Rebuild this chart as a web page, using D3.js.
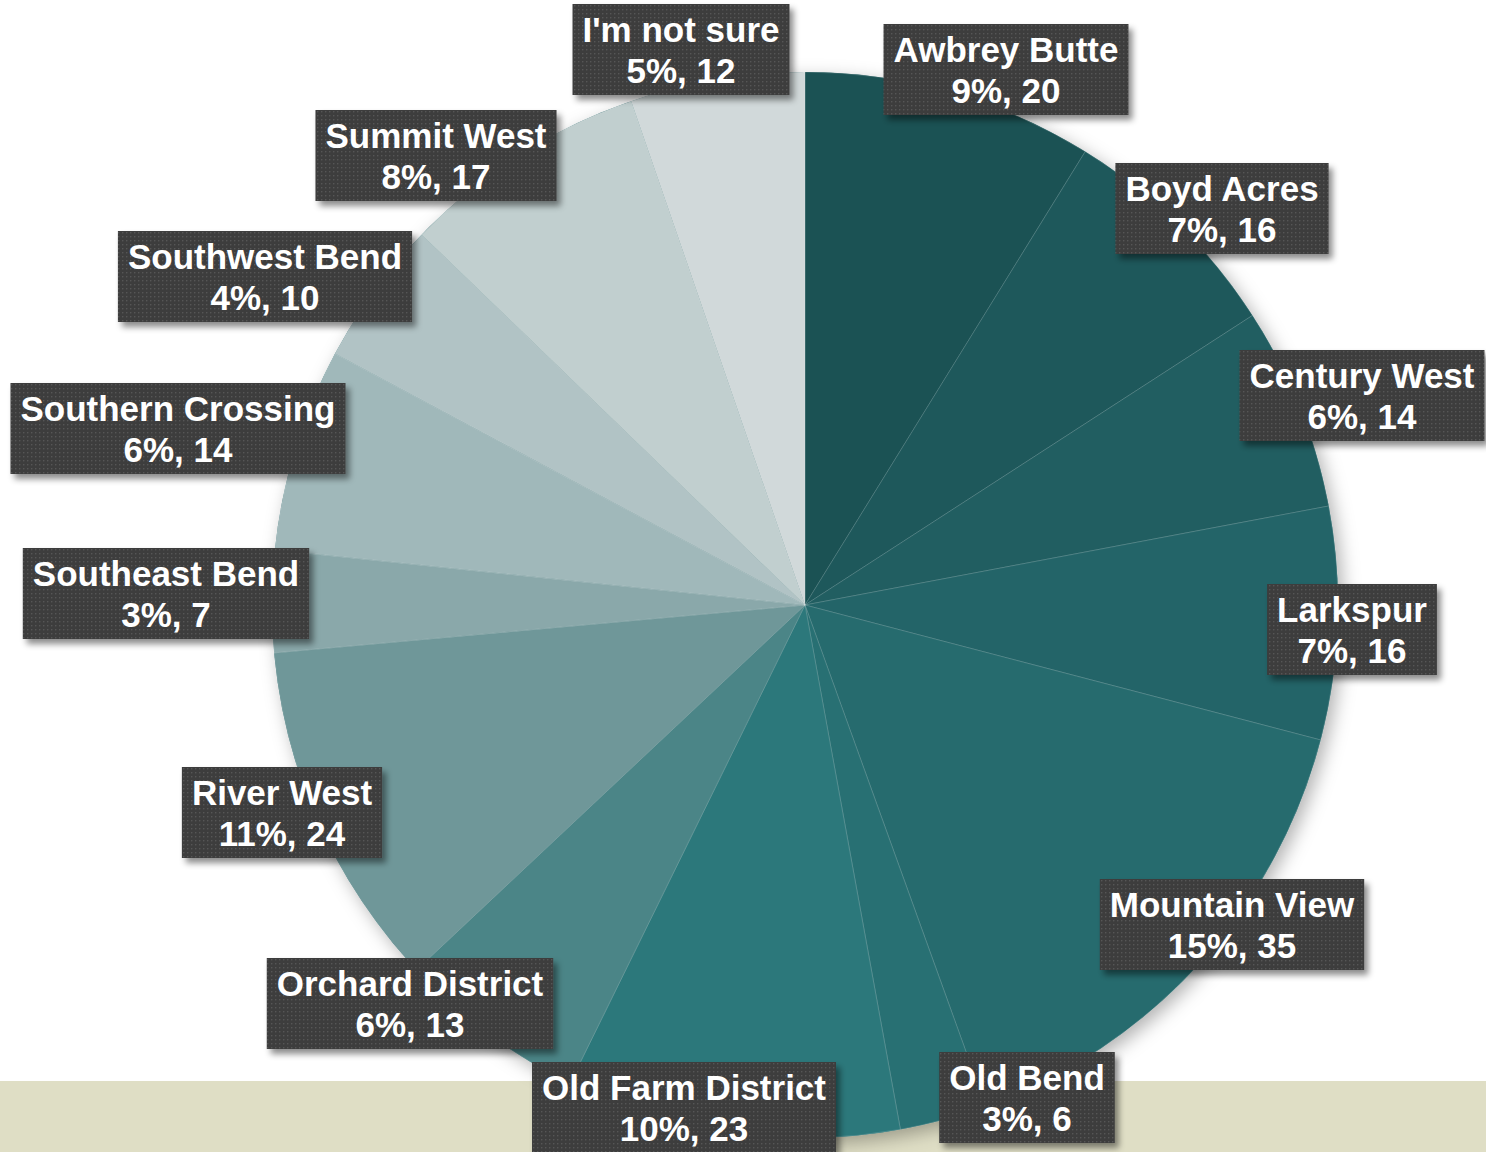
<!DOCTYPE html>
<html>
<head>
<meta charset="utf-8">
<title>Neighborhood pie</title>
<script src="https://cdn.jsdelivr.net/npm/d3@7"></script>
<style>
  html, body { margin: 0; padding: 0; background: #fff; }
  svg { display: block; }
</style>
</head>
<body>
<div id="chart"></div>
<script>
// data, clockwise from 12 o'clock
var categories = ["Awbrey Butte", "Boyd Acres", "Century West", "Larkspur", "Mountain View",
  "Old Bend", "Old Farm District", "Orchard District", "River West", "Southeast Bend",
  "Southern Crossing", "Southwest Bend", "Summit West", "I'm not sure"];
var counts = [20, 16, 14, 16, 35, 6, 23, 13, 24, 7, 14, 10, 17, 12];
var sliceColors = ["#1b5254", "#1e585b", "#215e61", "#236468", "#266b6e", "#287073",
  "#2c787b", "#4b8587", "#6f9799", "#8aa8aa", "#a0b8ba", "#b1c3c5", "#c1cfcf", "#d1d9da"];
// label box placement: [center x, top y]
var labelPos = [[1006, 24], [1222, 163], [1362, 350], [1352, 584], [1232, 879],
  [1027, 1052], [684, 1062], [410, 958], [282, 767], [166, 548],
  [178, 383], [265, 231], [436, 110], [681, 4]];

var W = 1486, H = 1152, cx = 805, cy = 605, R = 533;

// percentages rounded so they add up to 100 (largest remainder)
var total = d3.sum(counts);
var raw = counts.map(function(v){ return v / total * 100 });
var pct = raw.map(Math.floor);
var left = 100 - d3.sum(pct);
d3.range(counts.length)
  .sort(function(a, b){ return (raw[b] - pct[b]) - (raw[a] - pct[a]) })
  .slice(0, left)
  .forEach(function(i){ pct[i] += 1 });

var svg = d3.select("#chart").append("svg").attr("width", W).attr("height", H);
var defs = svg.append("defs");

var pieShadow = defs.append("filter").attr("id", "pieShadow")
  .attr("x", "-10%").attr("y", "-10%").attr("width", "120%").attr("height", "120%");
pieShadow.append("feDropShadow").attr("dx", 5).attr("dy", 6)
  .attr("stdDeviation", 9).attr("flood-color", "#000").attr("flood-opacity", 0.3);

var boxShadow = defs.append("filter").attr("id", "boxShadow")
  .attr("x", "-10%").attr("y", "-20%").attr("width", "125%").attr("height", "150%");
boxShadow.append("feDropShadow").attr("dx", 4).attr("dy", 5)
  .attr("stdDeviation", 3).attr("flood-color", "#000").attr("flood-opacity", 0.45);

var dots = defs.append("pattern").attr("id", "dots")
  .attr("patternUnits", "userSpaceOnUse").attr("width", 4).attr("height", 4);
dots.append("rect").attr("width", 4).attr("height", 4).attr("fill", "#3c3c3c");
dots.append("rect").attr("x", 1).attr("y", 1).attr("width", 1.4).attr("height", 1.4).attr("fill", "#575757");

svg.append("rect").attr("width", W).attr("height", H).attr("fill", "#fff");
svg.append("rect").attr("y", 1081).attr("width", W).attr("height", H - 1081).attr("fill", "#dfdec5");

var pie = d3.pie().sort(null).value(function(d){ return d });
var arc = d3.arc().innerRadius(0).outerRadius(R);

var g = svg.append("g").attr("transform", "translate(" + cx + "," + cy + ")");
g.append("circle").attr("r", R).attr("fill", "#256064").attr("filter", "url(#pieShadow)");
g.selectAll("path").data(pie(counts)).enter()
  .append("path")
  .attr("d", arc)
  .attr("fill", function(d, i){ return sliceColors[i] })
  .attr("stroke", "rgba(255,255,255,0.22)")
  .attr("stroke-width", 0.7);

// labels
var lab = svg.selectAll("g.lab").data(categories).enter()
  .append("g").attr("class", "lab")
  .attr("transform", function(d, i){ return "translate(" + labelPos[i][0] + "," + labelPos[i][1] + ")" });

var bg = lab.append("rect");

lab.append("text")
  .attr("text-anchor", "middle")
  .attr("y", 38)
  .style("font", "bold 35px 'Liberation Sans', Arial, sans-serif")
  .attr("fill", "#fff")
  .text(function(d){ return d });

lab.append("text")
  .attr("text-anchor", "middle")
  .attr("y", 79)
  .style("font", "bold 35px 'Liberation Sans', Arial, sans-serif")
  .attr("fill", "#fff")
  .text(function(d, i){ return pct[i] + "%, " + counts[i] });

bg.each(function(){
  var node = this.parentNode;
  var w = d3.max(d3.select(node).selectAll("text").nodes(), function(t){ return t.getComputedTextLength() });
  d3.select(this)
    .attr("x", -w / 2 - 10).attr("y", 0)
    .attr("width", w + 20).attr("height", 91)
    .attr("fill", "url(#dots)")
    .attr("filter", "url(#boxShadow)");
});
</script>
</body>
</html>
